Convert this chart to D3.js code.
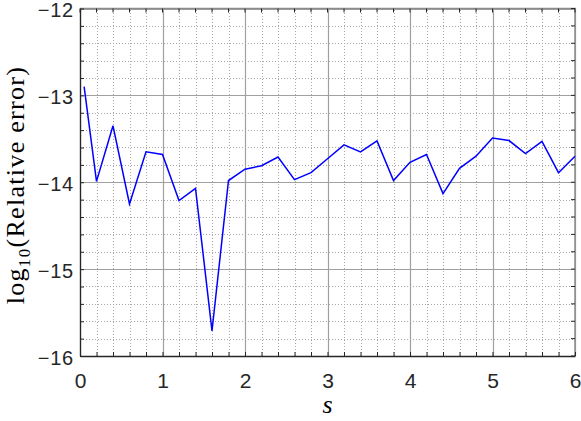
<!DOCTYPE html>
<html>
<head>
<meta charset="utf-8">
<script src="https://cdn.jsdelivr.net/npm/d3@7"></script>
<style>
  body { margin: 0; background: #fff; }
  svg { display: block; }
</style>
</head>
<body>
<div id="draw_here"></div>
<script type="text/javascript">
    // data
    s_vals = [0.05, 0.2, 0.4, 0.6, 0.8, 1.0, 1.2, 1.4, 1.6, 1.8, 2.0, 2.2, 2.4, 2.6, 2.8, 3.0,
              3.2, 3.4, 3.6, 3.8, 4.0, 4.2, 4.4, 4.6, 4.8, 5.0, 5.2, 5.4, 5.6, 5.8, 6.0]
    err_vals = [-12.90, -13.99, -13.35, -14.25, -13.65, -13.68, -14.21, -14.07, -15.71, -13.98,
                -13.85, -13.81, -13.71, -13.97, -13.89, -13.73, -13.57, -13.65, -13.525, -13.98,
                -13.77, -13.68, -14.13, -13.84, -13.70, -13.49, -13.52, -13.67, -13.53, -13.89, -13.70]
    x_ticks = [0, 1, 2, 3, 4, 5, 6]
    y_ticks = [-16, -15, -14, -13, -12]
    x_minor = d3.range(0, 6.0001, 0.2)
    y_minor = d3.range(-16, -11.9999, 0.2)

    canvas = ({width: 581, height: 421})
    margin = ({top: 8.5, right: 6, bottom: 65, left: 80})

    axis_dark = "#262626"
    grid_major = "#a0a0a0"
    grid_minor = "#a8a8a8"
    l_blue = "#0000ff"
    sans = "Liberation Sans"
    serif = "Liberation Serif"

    x = d3.scaleLinear()
        .domain([0, 6])
        .range([margin.left, canvas.width - margin.right])

    y = d3.scaleLinear()
        .domain([-16, -12])
        .range([canvas.height - margin.bottom, margin.top])

    var svg = d3.select("div#draw_here").append("svg")
        .attr("width", canvas.width)
        .attr("height", canvas.height)
        .attr("viewBox", [0, 0, canvas.width, canvas.height]);

    // minor grid
    svg.append("g").selectAll("line")
        .data(x_minor)
        .join("line")
        .attr("x1", d => Math.round(x(d)) + 0.5).attr("x2", d => Math.round(x(d)) + 0.5)
        .attr("y1", y(-16)).attr("y2", y(-12))
        .attr("stroke", grid_minor)
        .attr("stroke-dasharray", "1,2");

    svg.append("g").selectAll("line")
        .data(y_minor)
        .join("line")
        .attr("y1", d => Math.round(y(d)) + 0.5).attr("y2", d => Math.round(y(d)) + 0.5)
        .attr("x1", x(0)).attr("x2", x(6))
        .attr("stroke", grid_minor)
        .attr("stroke-dasharray", "1,2");

    // major grid
    svg.append("g").selectAll("line")
        .data(x_ticks)
        .join("line")
        .attr("x1", d => Math.round(x(d)) + 0.5).attr("x2", d => Math.round(x(d)) + 0.5)
        .attr("y1", y(-16)).attr("y2", y(-12))
        .attr("stroke", grid_major)
        .attr("stroke-width", 1.2);

    svg.append("g").selectAll("line")
        .data(y_ticks)
        .join("line")
        .attr("y1", d => Math.round(y(d)) + 0.5).attr("y2", d => Math.round(y(d)) + 0.5)
        .attr("x1", x(0)).attr("x2", x(6))
        .attr("stroke", grid_major)
        .attr("stroke-width", 1.2);

    // box (top / right)
    svg.append("path")
        .attr("fill", "none")
        .attr("stroke", "#8c8c8c")
        .attr("stroke-width", 1.5)
        .attr("d", `M${x(0)},${y(-12)}H${x(6)}V${y(-16)}`);

    // data line
    line = d3.line()
        .x((d, i) => x(s_vals[i]))
        .y(d => y(d))

    svg.append("path")
        .attr("fill", "none")
        .attr("stroke", l_blue)
        .attr("stroke-width", 1.5)
        .attr("stroke-linejoin", "miter")
        .attr("d", line(err_vals));

    // axes with inward ticks
    xAxis = g => g
        .attr("transform", `translate(0,${y(-16)})`)
        .call(d3.axisBottom(x).tickValues(x_minor).tickSizeInner(-4).tickSizeOuter(0).tickFormat(""))
        .call(g => g.select(".domain").attr("stroke", axis_dark).attr("stroke-width", 1.3))
        .call(g => g.selectAll(".tick line").attr("stroke", axis_dark))

    xLabels = g => g
        .attr("transform", `translate(0,${y(-16)})`)
        .call(d3.axisBottom(x).tickValues(x_ticks).tickSize(0).tickPadding(17).tickFormat(d3.format("d")))
        .call(g => g.select(".domain").remove())
        .call(g => g.selectAll("text")
            .attr("fill", axis_dark)
            .style("font-family", sans)
            .attr("font-size", 21))

    yAxis = g => g
        .attr("transform", `translate(${x(0)},0)`)
        .call(d3.axisLeft(y).tickValues(y_minor).tickSizeInner(-4).tickSizeOuter(0).tickFormat(""))
        .call(g => g.select(".domain").attr("stroke", axis_dark).attr("stroke-width", 1.3))
        .call(g => g.selectAll(".tick line").attr("stroke", axis_dark))

    yLabels = g => g
        .attr("transform", `translate(${x(0)},0)`)
        .call(d3.axisLeft(y).tickValues(y_ticks).tickSize(0).tickPadding(6).tickFormat(d3.format("d")))
        .call(g => g.select(".domain").remove())
        .call(g => g.selectAll("text")
            .attr("fill", axis_dark)
            .attr("dy", "0.42em")
            .attr("letter-spacing", 0.8)
            .style("font-family", sans)
            .attr("font-size", 20))

    svg.append("g").call(xAxis);
    svg.append("g").call(yAxis);
    svg.append("g").call(xLabels);
    svg.append("g").call(yLabels);

    // right / top minor ticks
    svg.append("g").selectAll("line")
        .data(y_minor)
        .join("line")
        .attr("x1", x(6)).attr("x2", x(6) - 4)
        .attr("y1", d => y(d)).attr("y2", d => y(d))
        .attr("stroke", axis_dark);

    svg.append("g").selectAll("line")
        .data(x_minor)
        .join("line")
        .attr("y1", y(-12)).attr("y2", y(-12) + 4)
        .attr("x1", d => x(d)).attr("x2", d => x(d))
        .attr("stroke", axis_dark);

    // axis titles
    svg.append("text")
        .attr("x", x(3))
        .attr("y", 413)
        .attr("text-anchor", "middle")
        .style("font-family", serif)
        .attr("font-style", "italic")
        .attr("font-size", 26)
        .attr("fill", "#000")
        .text("s");

    ylab = svg.append("text")
        .attr("transform", `translate(24,185) rotate(-90)`)
        .attr("text-anchor", "middle")
        .style("font-family", serif)
        .attr("font-size", 26)
        .attr("letter-spacing", 1.3)
        .attr("fill", "#000")
    ylab.append("tspan").text("log")
    ylab.append("tspan").attr("font-size", 17).attr("dy", 6).text("10")
    ylab.append("tspan").attr("dy", -6).text("(Relative error)")
</script>
</body>
</html>
